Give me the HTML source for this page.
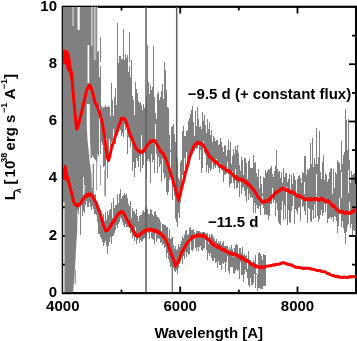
<!DOCTYPE html>
<html><head><meta charset="utf-8"><style>
html,body{margin:0;padding:0;background:#fff;}
svg{display:block;will-change:transform;}
text{font-family:"Liberation Sans",sans-serif;font-weight:bold;}
</style></head><body>
<svg width="357" height="341" viewBox="0 0 357 341">
<defs><clipPath id="c"><rect x="62.9" y="6.7" width="293.2" height="285.6"/></clipPath></defs>
<rect width="357" height="341" fill="#fff"/>
<rect x="62.8" y="6.8" width="293.3" height="286.3" fill="none" stroke="#000" stroke-width="2.2"/>
<g stroke="#000" stroke-width="1.6"></g>
<g clip-path="url(#c)">

<path d="M62,7 L97.5,7 L97.5,150 L97,172 L95,182 L92,200 L90,203 L84,200 L80,204 L77.5,207 L77.2,230 L76,250 L75,268 L74,282 L73,293 L62,293 Z" fill="#808080"/>
<rect x="63.3" y="202" width="1.2" height="91" fill="#f2f2f2"/>
<rect x="72.3" y="7" width="1.4" height="19" fill="#c8c8c8"/>
<rect x="77.6" y="7" width="2.1" height="23" fill="#fff"/>
<rect x="91" y="6" width="1.7" height="40" fill="#c4c4c4"/><rect x="93.7" y="6" width="2.1" height="54" fill="#bcbcbc"/><rect x="96.9" y="6" width="0.6" height="54" fill="#fff"/>
<rect x="87.6" y="45" width="1.6" height="38" fill="#fff"/>
<path d="M86.8,104 L89.7,104 L90,140 L90.5,150 L93,157 L97,162 L101,166 L106,172 L106.5,196 L92,196 L91.5,175 L89.5,160 L88.6,150 L87.5,140 L86.8,125 Z" fill="#fff"/>
<path d="M90.5,150h1.5V158h-1.5zM93.4,150h1.5V157h-1.5zM92.7,164h1.3V190h-1.3zM96.3,160h0.8V190h-0.8zM100,165h0.8V185h-0.8zM104.4,170h1.5V196h-1.5z" fill="#808080"/>
<rect x="83" y="177" width="0.8" height="20" fill="#fff"/><rect x="84.5" y="185" width="0.7" height="12" fill="#fff"/>

<path d="M97,51.8h1V154.3h-1zM98,50.5h1V155.5h-1zM99,76.7h1V107.1h-1zM100,65.9h1V154.2h-1zM101,106.3h1V142.1h-1zM102,107.9h1V144.9h-1zM103,107.0h1V167.0h-1zM104,106.8h1V166.4h-1zM105,105.0h1V171.3h-1zM106,107.3h1V137.7h-1zM107,107.1h1V178.1h-1zM108,105.6h1V161.0h-1zM109,106.9h1V138.5h-1zM110,116.0h1V155.4h-1zM111,102.6h1V142.4h-1zM112,100.4h1V140.3h-1zM113,116.0h1V128.7h-1zM114,100.2h1V138.4h-1zM115,88.1h1V143.9h-1zM116,104.8h1V133.9h-1zM117,64.2h1V134.4h-1zM118,63.1h1V125.9h-1zM119,56.1h1V127.0h-1zM120,56.1h1V129.5h-1zM121,59.1h1V136.2h-1zM122,58.8h1V133.4h-1zM123,50.6h1V137.0h-1zM124,59.5h1V123.5h-1zM125,53.7h1V129.5h-1zM126,58.0h1V118.7h-1zM127,55.3h1V154.1h-1zM128,71.8h1V136.9h-1zM129,65.9h1V138.8h-1zM130,77.2h1V146.6h-1zM131,75.7h1V138.9h-1zM132,96.2h1V170.5h-1zM133,99.9h1V161.6h-1zM134,115.3h1V176.5h-1zM135,86.0h1V168.0h-1zM136,89.1h1V157.5h-1zM137,93.3h1V160.5h-1zM138,101.0h1V167.4h-1zM139,103.3h1V156.1h-1zM140,101.5h1V171.9h-1zM141,105.1h1V134.8h-1zM142,109.9h1V168.2h-1zM143,103.7h1V165.0h-1zM144,108.3h1V153.4h-1zM145,105.3h1V155.3h-1zM146,95.6h1V178.8h-1zM147,93.2h1V161.2h-1zM148,82.3h1V158.8h-1zM149,93.9h1V162.4h-1zM150,85.4h1V183.4h-1zM151,89.7h1V153.5h-1zM152,86.8h1V162.0h-1zM153,96.2h1V160.4h-1zM154,96.9h1V172.7h-1zM155,112.7h1V124.2h-1zM156,119.1h1V153.5h-1zM157,93.5h1V173.0h-1zM158,92.0h1V157.0h-1zM159,100.0h1V167.2h-1zM160,97.1h1V163.9h-1zM161,91.0h1V182.1h-1zM162,84.1h1V159.3h-1zM163,98.6h1V173.1h-1zM164,94.4h1V179.4h-1zM165,81.4h1V176.7h-1zM166,90.4h1V191.5h-1zM167,106.9h1V195.1h-1zM168,108.1h1V191.5h-1zM169,135.4h1V179.5h-1zM170,150.3h1V152.0h-1zM171,127.4h1V174.7h-1zM172,126.2h1V200.0h-1zM173,123.9h1V179.3h-1zM174,134.4h1V196.1h-1zM175,141.9h1V218.9h-1zM176,153.9h1V222.4h-1zM177,158.3h1V227.0h-1zM178,177.7h1V212.7h-1zM179,179.8h1V217.6h-1zM180,161.7h1V203.4h-1zM181,159.5h1V195.7h-1zM182,130.9h1V175.0h-1zM183,126.0h1V185.0h-1zM184,135.7h1V157.5h-1zM185,135.7h1V171.1h-1zM186,130.6h1V152.1h-1zM187,130.3h1V166.3h-1zM188,121.4h1V162.7h-1zM189,118.3h1V158.1h-1zM190,114.4h1V158.4h-1zM191,109.5h1V154.7h-1zM192,108.4h1V154.4h-1zM193,122.4h1V145.6h-1zM194,136.0h1V150.8h-1zM195,111.1h1V147.7h-1zM196,125.8h1V149.2h-1zM197,106.8h1V147.6h-1zM198,118.5h1V144.8h-1zM199,127.4h1V159.6h-1zM200,126.4h1V149.8h-1zM201,129.3h1V173.3h-1zM202,121.7h1V167.9h-1zM203,121.3h1V141.0h-1zM204,115.0h1V153.3h-1zM205,125.4h1V154.6h-1zM206,132.9h1V171.9h-1zM207,119.4h1V165.4h-1zM208,129.0h1V172.8h-1zM209,121.5h1V167.9h-1zM210,134.6h1V170.6h-1zM211,129.5h1V169.3h-1zM212,142.0h1V157.4h-1zM213,136.2h1V168.8h-1zM214,138.0h1V166.2h-1zM215,141.0h1V167.7h-1zM216,139.8h1V158.5h-1zM217,140.1h1V164.3h-1zM218,145.3h1V168.0h-1zM219,144.1h1V173.1h-1zM220,138.1h1V162.5h-1zM221,141.9h1V170.0h-1zM222,146.5h1V171.4h-1zM223,151.8h1V181.8h-1zM224,145.2h1V174.5h-1zM225,146.2h1V174.2h-1zM226,155.8h1V174.3h-1zM227,149.8h1V162.0h-1zM228,139.6h1V173.8h-1zM229,149.6h1V187.2h-1zM230,141.5h1V184.0h-1zM231,164.1h1V183.1h-1zM232,155.8h1V171.4h-1zM233,149.2h1V182.5h-1zM234,154.1h1V189.0h-1zM235,145.5h1V168.5h-1zM236,149.7h1V188.3h-1zM237,152.7h1V188.3h-1zM238,152.7h1V183.4h-1zM239,165.0h1V196.8h-1zM240,171.0h1V182.4h-1zM241,156.9h1V194.0h-1zM242,160.2h1V188.2h-1zM243,175.1h1V186.7h-1zM244,157.5h1V190.6h-1zM245,157.5h1V195.8h-1zM246,163.4h1V201.5h-1zM247,179.1h1V189.3h-1zM248,161.4h1V200.4h-1zM249,158.6h1V194.0h-1zM250,168.2h1V198.4h-1zM251,167.5h1V197.2h-1zM252,167.7h1V198.0h-1zM253,160.0h1V212.9h-1zM254,163.2h1V202.7h-1zM255,162.1h1V213.1h-1zM256,173.2h1V205.0h-1zM257,176.9h1V208.4h-1zM258,168.9h1V208.9h-1zM259,188.4h1V206.1h-1zM260,176.4h1V215.3h-1zM261,183.9h1V204.5h-1zM262,192.7h1V196.4h-1zM263,176.5h1V207.6h-1zM264,177.5h1V214.7h-1zM265,170.2h1V213.8h-1zM266,173.2h1V215.0h-1zM267,171.0h1V214.8h-1zM268,168.9h1V219.7h-1zM269,170.2h1V215.8h-1zM270,168.4h1V204.2h-1zM271,165.9h1V203.7h-1zM272,174.0h1V187.9h-1zM273,176.8h1V202.5h-1zM274,171.4h1V199.5h-1zM275,166.0h1V216.1h-1zM276,167.8h1V203.2h-1zM277,168.9h1V210.4h-1zM278,172.0h1V221.8h-1zM279,170.8h1V224.3h-1zM280,177.7h1V225.0h-1zM281,172.3h1V209.9h-1zM282,183.0h1V201.1h-1zM283,168.3h1V220.0h-1zM284,176.8h1V204.5h-1zM285,172.5h1V218.9h-1zM286,172.8h1V187.3h-1zM287,181.8h1V224.6h-1zM288,178.7h1V210.1h-1zM289,173.7h1V222.1h-1zM290,189.6h1V223.0h-1zM291,174.8h1V211.1h-1zM292,183.8h1V206.0h-1zM293,173.0h1V196.3h-1zM294,176.2h1V223.5h-1zM295,180.0h1V208.7h-1zM296,193.8h1V210.6h-1zM297,179.0h1V214.0h-1zM298,175.9h1V207.6h-1zM299,174.5h1V207.0h-1zM300,178.2h1V220.7h-1zM301,182.7h1V194.9h-1zM302,172.2h1V206.8h-1zM303,173.3h1V206.1h-1zM304,194.3h1V210.8h-1zM305,173.4h1V215.3h-1zM306,174.8h1V200.1h-1zM307,168.6h1V222.6h-1zM308,169.6h1V207.5h-1zM309,168.1h1V208.7h-1zM310,164.3h1V220.5h-1zM311,163.9h1V222.0h-1zM312,168.4h1V209.6h-1zM313,167.1h1V218.6h-1zM314,157.5h1V203.6h-1zM315,164.2h1V218.4h-1zM316,193.6h1V194.6h-1zM317,164.3h1V215.6h-1zM318,157.0h1V222.2h-1zM319,171.6h1V219.0h-1zM320,171.6h1V215.1h-1zM321,179.4h1V210.0h-1zM322,162.4h1V215.9h-1zM323,167.8h1V213.1h-1zM324,179.7h1V203.5h-1zM325,173.3h1V212.1h-1zM326,174.5h1V199.6h-1zM327,182.1h1V223.0h-1zM328,178.5h1V218.8h-1zM329,171.8h1V217.5h-1zM330,169.2h1V217.1h-1zM331,167.6h1V219.2h-1zM332,193.9h1V216.9h-1zM333,168.9h1V221.8h-1zM334,187.5h1V216.2h-1zM335,172.3h1V217.3h-1zM336,173.7h1V221.4h-1zM337,174.8h1V232.6h-1zM338,162.0h1V225.5h-1zM339,162.9h1V197.9h-1zM340,170.3h1V213.8h-1zM341,197.5h1V226.9h-1zM342,164.2h1V221.0h-1zM343,154.9h1V228.2h-1zM344,151.5h1V232.8h-1zM345,151.5h1V243.7h-1zM346,162.2h1V231.5h-1zM347,150.1h1V226.2h-1zM348,193.2h1V223.8h-1zM349,159.5h1V201.9h-1zM350,182.6h1V227.9h-1zM351,170.8h1V224.0h-1zM352,175.2h1V234.5h-1zM353,173.8h1V230.2h-1zM354,173.1h1V230.8h-1zM355,183.5h1V236.2h-1z" fill="#808080" shape-rendering="crispEdges"/>
<path d="M77,196.2h1V209.9h-1zM78,196.4h1V213.7h-1zM79,193.8h1V205.1h-1zM80,201.6h1V202.6h-1zM81,194.2h1V205.2h-1zM82,200.3h1V215.8h-1zM83,195.0h1V210.5h-1zM84,192.9h1V212.8h-1zM85,189.1h1V204.7h-1zM86,188.6h1V200.5h-1zM87,185.2h1V206.7h-1zM88,191.7h1V207.3h-1zM89,187.9h1V196.5h-1zM90,188.3h1V207.1h-1zM91,194.8h1V209.8h-1zM92,188.1h1V206.3h-1zM93,191.0h1V208.9h-1zM94,195.3h1V213.9h-1zM95,194.0h1V214.4h-1zM96,201.1h1V214.9h-1zM97,201.8h1V222.1h-1zM98,206.1h1V234.4h-1zM99,211.3h1V234.1h-1zM100,212.4h1V237.1h-1zM101,214.8h1V239.4h-1zM102,219.9h1V241.9h-1zM103,213.8h1V246.4h-1zM104,220.9h1V243.1h-1zM105,212.3h1V241.2h-1zM106,220.3h1V245.7h-1zM107,210.5h1V254.2h-1zM108,214.6h1V246.3h-1zM109,209.7h1V241.6h-1zM110,208.9h1V237.1h-1zM111,202.6h1V243.7h-1zM112,217.5h1V235.5h-1zM113,198.2h1V235.9h-1zM114,208.3h1V232.5h-1zM115,205.2h1V229.5h-1zM116,204.5h1V225.4h-1zM117,193.5h1V227.7h-1zM118,202.5h1V224.4h-1zM119,193.7h1V221.7h-1zM120,189.0h1V218.3h-1zM121,198.8h1V219.4h-1zM122,195.6h1V221.9h-1zM123,195.2h1V225.1h-1zM124,193.0h1V226.7h-1zM125,195.3h1V224.0h-1zM126,193.6h1V227.2h-1zM127,197.8h1V226.5h-1zM128,203.6h1V226.5h-1zM129,205.6h1V227.6h-1zM130,200.7h1V233.4h-1zM131,217.9h1V232.4h-1zM132,207.5h1V237.5h-1zM133,211.4h1V236.0h-1zM134,211.8h1V240.6h-1zM135,214.3h1V226.5h-1zM136,209.2h1V243.9h-1zM137,215.6h1V240.2h-1zM138,221.2h1V236.8h-1zM139,215.7h1V243.0h-1zM140,215.0h1V239.5h-1zM141,214.9h1V242.1h-1zM142,211.7h1V241.2h-1zM143,210.4h1V238.7h-1zM144,211.6h1V238.3h-1zM145,206.6h1V237.2h-1zM146,205.7h1V238.5h-1zM147,209.2h1V231.5h-1zM148,213.7h1V233.0h-1zM149,213.6h1V239.4h-1zM150,208.8h1V230.8h-1zM151,210.0h1V237.9h-1zM152,213.6h1V239.1h-1zM153,215.7h1V240.0h-1zM154,211.9h1V244.1h-1zM155,210.7h1V232.9h-1zM156,214.7h1V241.9h-1zM157,216.7h1V238.9h-1zM158,216.7h1V238.0h-1zM159,219.1h1V239.0h-1zM160,222.3h1V242.8h-1zM161,230.7h1V242.2h-1zM162,224.4h1V245.0h-1zM163,223.5h1V244.1h-1zM164,224.8h1V248.1h-1zM165,225.1h1V246.6h-1zM166,227.4h1V258.3h-1zM167,227.4h1V253.4h-1zM168,238.0h1V259.4h-1zM169,228.9h1V261.9h-1zM170,239.3h1V266.6h-1zM171,238.2h1V266.0h-1zM172,236.8h1V266.3h-1zM173,245.1h1V267.9h-1zM174,248.9h1V270.8h-1zM175,246.0h1V272.0h-1zM176,250.1h1V269.5h-1zM177,248.9h1V273.9h-1zM178,243.7h1V268.1h-1zM179,247.4h1V263.5h-1zM180,243.8h1V261.5h-1zM181,240.6h1V256.8h-1zM182,236.2h1V264.1h-1zM183,238.2h1V255.9h-1zM184,235.1h1V258.9h-1zM185,230.5h1V251.8h-1zM186,230.3h1V256.6h-1zM187,235.0h1V252.2h-1zM188,233.6h1V255.0h-1zM189,227.6h1V253.5h-1zM190,227.4h1V239.2h-1zM191,229.6h1V249.7h-1zM192,230.3h1V251.0h-1zM193,229.0h1V249.4h-1zM194,232.1h1V236.5h-1zM195,238.7h1V248.4h-1zM196,231.2h1V251.0h-1zM197,231.4h1V247.4h-1zM198,231.0h1V250.7h-1zM199,230.9h1V247.1h-1zM200,232.4h1V245.6h-1zM201,232.8h1V249.8h-1zM202,232.2h1V250.8h-1zM203,231.5h1V249.1h-1zM204,231.6h1V247.9h-1zM205,232.7h1V240.2h-1zM206,234.4h1V250.0h-1zM207,233.1h1V259.6h-1zM208,244.1h1V252.8h-1zM209,234.1h1V255.5h-1zM210,236.9h1V253.4h-1zM211,233.8h1V258.1h-1zM212,235.1h1V261.2h-1zM213,236.5h1V260.9h-1zM214,238.7h1V257.9h-1zM215,241.0h1V262.8h-1zM216,239.4h1V262.4h-1zM217,242.7h1V267.9h-1zM218,240.9h1V260.6h-1zM219,243.2h1V265.0h-1zM220,241.3h1V264.6h-1zM221,245.4h1V270.0h-1zM222,243.4h1V263.0h-1zM223,241.2h1V263.5h-1zM224,245.9h1V261.6h-1zM225,246.1h1V272.1h-1zM226,245.5h1V262.2h-1zM227,245.8h1V255.5h-1zM228,251.2h1V271.2h-1zM229,246.6h1V273.7h-1zM230,248.8h1V266.9h-1zM231,244.7h1V266.5h-1zM232,249.4h1V267.1h-1zM233,256.9h1V273.1h-1zM234,247.6h1V273.9h-1zM235,244.6h1V270.9h-1zM236,244.3h1V268.9h-1zM237,245.2h1V270.5h-1zM238,254.6h1V269.8h-1zM239,247.7h1V278.5h-1zM240,247.9h1V261.7h-1zM241,253.3h1V275.3h-1zM242,247.1h1V274.8h-1zM243,255.2h1V281.7h-1zM244,254.1h1V273.8h-1zM245,256.3h1V270.4h-1zM246,255.4h1V271.7h-1zM247,269.1h1V277.7h-1zM248,250.7h1V284.5h-1zM249,259.7h1V287.0h-1zM250,260.3h1V277.6h-1zM251,262.7h1V285.1h-1zM252,264.6h1V284.7h-1zM253,260.1h1V283.2h-1zM254,262.0h1V274.0h-1zM255,255.3h1V288.2h-1zM256,273.2h1V274.2h-1zM257,273.5h1V290.9h-1zM258,253.2h1V288.1h-1zM259,251.8h1V288.3h-1zM260,253.6h1V288.5h-1zM261,256.1h1V289.2h-1zM262,260.4h1V289.1h-1zM263,253.7h1V285.9h-1zM264,255.3h1V286.0h-1zM265,255.3h1V285.6h-1z" fill="#808080" shape-rendering="crispEdges"/>

<path d="M100,37.0h1V62.0h-1zM111,82.6h1V107.9h-1zM114,96.6h1V102.2h-1zM117,23.0h1V67.3h-1zM123,29.0h1V62.0h-1zM129,31.7h1V62.0h-1zM131,60.0h1V90.8h-1zM135,82.0h1V102.0h-1zM147,45.0h1V97.0h-1zM153,46.0h1V97.0h-1zM164,62.0h1V102.0h-1zM165,70.0h1V102.0h-1zM304,156.0h1V182.1h-1zM310,143.0h1V179.5h-1zM312,138.0h1V178.0h-1zM316,128.0h1V174.0h-1zM319,131.0h1V174.0h-1zM323,154.5h1V180.0h-1zM337,160.0h1V177.3h-1zM341,141.0h1V171.8h-1zM345,109.0h1V167.0h-1zM346,120.0h1V168.5h-1zM348,119.0h1V170.0h-1zM276,150.0h1V170.0h-1zM237,145.0h1V163.9h-1zM253,155.0h1V174.2h-1zM305,156.0h1V182.0h-1zM192,106.0h1V127.0h-1zM197,108.0h1V128.2h-1zM202,112.0h1V130.8h-1z" fill="#808080" shape-rendering="crispEdges"/>
<line x1="146" y1="7" x2="146" y2="293" stroke="#606060" stroke-width="1.5"/>
<line x1="176.7" y1="7" x2="176.7" y2="190" stroke="#606060" stroke-width="1.5"/>
<line x1="172.3" y1="255" x2="172.3" y2="293" stroke="#707070" stroke-width="1.3"/>
<line x1="80.5" y1="200" x2="80.5" y2="235" stroke="#808080" stroke-width="1"/>
<line x1="75.3" y1="270" x2="75.3" y2="284" stroke="#808080" stroke-width="1"/>

<path d="M62.8,50.5 L64.5,49.3 L65.5,51 L66.8,49.5 L68.2,51.5 L69.8,55 L70.8,61 L71.5,67 L72.8,74 L73.8,82 L71.5,83 L70.3,77 L68.8,72 L66.8,69.5 L65.8,65 L64,63.8 L62.8,63.5 Z" fill="#f00"/>
<path d="M62.8,170 L64,165.5 L65.5,164.5 L66.5,166 L67.5,171 L69,178 L70.5,184 L68.5,186 L66.5,181 L64.5,180 L62.8,179 Z" fill="#f00"/>
<path d="M71.5,70.5 L72.5,84.0 L73.5,94.3 L74.5,106.8 L75.5,115.6 L76.5,126.3 L77.5,126.8 L78.5,122.7 L79.5,117.9 L80.5,114.1 L81.5,111.2 L82.5,106.7 L83.5,102.0 L84.5,98.7 L85.5,92.5 L86.5,88.7 L87.5,86.4 L88.5,85.0 L89.5,83.5 L90.5,84.5 L91.5,87.5 L92.5,90.2 L93.5,93.3 L94.5,98.5 L95.5,102.0 L96.5,103.0 L97.5,105.3 L98.5,107.7 L99.5,109.9 L100.5,114.4 L101.5,117.3 L102.5,121.5 L103.5,129.2 L104.5,134.8 L105.5,141.5 L106.5,150.4 L107.5,156.3 L108.5,158.9 L109.5,156.0 L110.5,150.2 L111.5,146.2 L112.5,143.4 L113.5,140.2 L114.5,137.1 L115.5,133.4 L116.5,132.5 L117.5,128.2 L118.5,125.3 L119.5,122.0 L120.5,119.3 L121.5,116.6 L122.5,117.2 L123.5,117.2 L124.5,116.6 L125.5,118.3 L126.5,121.3 L127.5,124.0 L128.5,127.6 L129.5,131.0 L130.5,133.5 L131.5,135.3 L132.5,138.1 L133.5,140.2 L134.5,143.1 L135.5,145.8 L136.5,146.6 L137.5,148.0 L138.5,149.2 L139.5,149.2 L140.5,149.8 L141.5,149.7 L142.5,149.9 L143.5,149.3 L144.5,147.9 L145.5,146.9 L146.5,144.5 L147.5,142.8 L148.5,142.6 L149.5,141.1 L150.5,139.1 L151.5,140.6 L152.5,139.7 L153.5,138.9 L154.5,139.0 L155.5,139.6 L156.5,141.9 L157.5,144.4 L158.5,145.6 L159.5,147.4 L160.5,149.1 L161.5,149.9 L162.5,151.2 L163.5,151.7 L164.5,155.1 L165.5,155.5 L166.5,158.9 L167.5,162.0 L168.5,164.4 L169.5,167.6 L170.5,171.0 L171.5,174.6 L172.5,176.9 L173.5,181.0 L174.5,183.9 L175.5,187.2 L176.5,190.2 L177.5,193.5 L178.5,197.6 L179.5,194.3 L180.5,191.7 L181.5,187.0 L182.5,182.3 L183.5,178.8 L184.5,175.9 L185.5,170.6 L186.5,168.0 L187.5,163.3 L188.5,160.4 L189.5,156.1 L190.5,152.8 L191.5,149.8 L192.5,147.0 L193.5,145.7 L194.5,143.0 L195.5,142.8 L196.5,141.0 L197.5,140.6 L198.5,141.7 L199.5,141.0 L200.5,142.0 L201.5,141.4 L202.5,142.6 L203.5,143.9 L204.5,145.4 L205.5,147.8 L206.5,148.6 L207.5,149.5 L208.5,152.2 L209.5,155.0 L210.5,155.1 L211.5,155.8 L212.5,156.9 L213.5,158.9 L214.5,159.5 L215.5,160.3 L216.5,160.2 L217.5,160.7 L218.5,163.0 L219.5,164.1 L220.5,164.2 L221.5,164.0 L222.5,165.9 L223.5,165.5 L224.5,166.1 L225.5,167.3 L226.5,168.9 L227.5,169.2 L228.5,169.1 L229.5,169.6 L230.5,169.5 L231.5,172.0 L232.5,172.2 L233.5,174.1 L234.5,174.4 L235.5,175.6 L236.5,175.1 L237.5,176.0 L238.5,177.9 L239.5,176.4 L240.5,178.5 L241.5,177.3 L242.5,177.8 L243.5,178.2 L244.5,179.7 L245.5,179.8 L246.5,179.9 L247.5,182.2 L248.5,181.2 L249.5,183.2 L250.5,184.6 L251.5,185.1 L252.5,185.8 L253.5,187.9 L254.5,188.6 L255.5,189.9 L256.5,192.2 L257.5,193.7 L258.5,195.2 L259.5,196.5 L260.5,198.3 L261.5,198.9 L262.5,199.9 L263.5,200.9 L264.5,200.4 L265.5,198.8 L266.5,199.6 L267.5,199.8 L268.5,197.4 L269.5,198.6 L270.5,196.0 L271.5,194.6 L272.5,195.2 L273.5,192.9 L274.5,192.7 L275.5,190.3 L276.5,190.0 L277.5,190.4 L278.5,189.5 L279.5,188.4 L280.5,187.4 L281.5,187.9 L282.5,186.6 L283.5,187.2 L284.5,186.8 L285.5,188.6 L286.5,187.9 L287.5,188.9 L288.5,187.9 L289.5,189.5 L290.5,189.9 L291.5,191.0 L292.5,190.2 L293.5,190.8 L294.5,191.0 L295.5,192.7 L296.5,194.0 L297.5,193.9 L298.5,194.1 L299.5,194.7 L300.5,193.7 L301.5,195.9 L302.5,196.2 L303.5,196.1 L304.5,197.8 L305.5,198.1 L306.5,197.2 L307.5,197.7 L308.5,197.5 L309.5,197.0 L310.5,198.8 L311.5,196.9 L312.5,197.9 L313.5,197.6 L314.5,197.3 L315.5,197.1 L316.5,196.4 L317.5,198.7 L318.5,197.7 L319.5,198.5 L320.5,198.7 L321.5,196.1 L322.5,197.0 L323.5,198.1 L324.5,198.1 L325.5,200.0 L326.5,199.9 L327.5,199.4 L328.5,199.2 L329.5,199.5 L330.5,200.9 L331.5,203.0 L332.5,204.1 L333.5,205.0 L334.5,204.0 L335.5,205.9 L336.5,206.9 L337.5,207.8 L338.5,208.6 L339.5,210.0 L340.5,209.9 L341.5,209.5 L342.5,210.6 L343.5,210.3 L344.5,211.6 L345.5,210.5 L346.5,210.6 L347.5,211.2 L348.5,210.4 L349.5,211.9 L350.5,210.9 L351.5,210.3 L352.5,209.3 L353.5,209.5 L354.5,208.5 L355.5,209.2 L356.5,209.4 L356.5,212.4 L355.5,212.0 L354.5,212.9 L353.5,213.2 L352.5,213.1 L351.5,214.9 L350.5,214.7 L349.5,215.0 L348.5,214.3 L347.5,213.7 L346.5,214.5 L345.5,214.6 L344.5,214.6 L343.5,213.9 L342.5,214.3 L341.5,213.4 L340.5,213.2 L339.5,213.9 L338.5,213.0 L337.5,211.5 L336.5,211.3 L335.5,210.2 L334.5,208.2 L333.5,207.8 L332.5,208.1 L331.5,207.0 L330.5,205.8 L329.5,203.6 L328.5,203.3 L327.5,203.1 L326.5,203.8 L325.5,202.6 L324.5,202.4 L323.5,201.9 L322.5,200.6 L321.5,200.3 L320.5,201.2 L319.5,201.8 L318.5,201.2 L317.5,201.9 L316.5,200.5 L315.5,200.6 L314.5,201.0 L313.5,201.0 L312.5,200.7 L311.5,201.0 L310.5,201.6 L309.5,201.0 L308.5,200.2 L307.5,202.0 L306.5,200.9 L305.5,201.3 L304.5,201.3 L303.5,200.8 L302.5,199.0 L301.5,199.5 L300.5,197.8 L299.5,198.0 L298.5,198.1 L297.5,197.4 L296.5,197.9 L295.5,195.9 L294.5,194.8 L293.5,194.4 L292.5,194.0 L291.5,194.1 L290.5,193.9 L289.5,194.1 L288.5,192.4 L287.5,191.9 L286.5,191.3 L285.5,192.2 L284.5,189.9 L283.5,191.1 L282.5,189.8 L281.5,190.5 L280.5,192.1 L279.5,191.9 L278.5,192.9 L277.5,193.9 L276.5,194.0 L275.5,195.1 L274.5,196.5 L273.5,197.6 L272.5,198.3 L271.5,199.4 L270.5,199.9 L269.5,202.2 L268.5,201.7 L267.5,202.6 L266.5,202.7 L265.5,202.3 L264.5,203.4 L263.5,203.7 L262.5,204.3 L261.5,202.7 L260.5,202.0 L259.5,201.1 L258.5,198.8 L257.5,197.9 L256.5,195.9 L255.5,194.4 L254.5,192.5 L253.5,191.9 L252.5,190.1 L251.5,189.6 L250.5,188.9 L249.5,186.9 L248.5,186.0 L247.5,186.6 L246.5,184.5 L245.5,183.2 L244.5,183.8 L243.5,181.8 L242.5,181.5 L241.5,181.4 L240.5,180.8 L239.5,181.1 L238.5,181.2 L237.5,180.3 L236.5,179.7 L235.5,180.4 L234.5,178.8 L233.5,177.4 L232.5,175.9 L231.5,175.2 L230.5,173.2 L229.5,173.6 L228.5,173.5 L227.5,171.8 L226.5,172.7 L225.5,170.4 L224.5,170.3 L223.5,169.2 L222.5,168.8 L221.5,168.2 L220.5,167.6 L219.5,167.7 L218.5,166.0 L217.5,165.9 L216.5,164.1 L215.5,164.5 L214.5,163.1 L213.5,163.1 L212.5,160.6 L211.5,160.2 L210.5,158.8 L209.5,159.2 L208.5,156.1 L207.5,154.6 L206.5,153.6 L205.5,151.5 L204.5,148.9 L203.5,147.1 L202.5,146.5 L201.5,145.6 L200.5,145.0 L199.5,144.1 L198.5,145.1 L197.5,144.5 L196.5,145.9 L195.5,147.4 L194.5,146.8 L193.5,149.9 L192.5,151.0 L191.5,153.9 L190.5,156.4 L189.5,159.1 L188.5,163.6 L187.5,167.8 L186.5,171.1 L185.5,175.0 L184.5,179.7 L183.5,183.1 L182.5,186.9 L181.5,191.0 L180.5,194.6 L179.5,198.1 L178.5,202.2 L177.5,197.6 L176.5,194.3 L175.5,191.0 L174.5,188.1 L173.5,184.3 L172.5,181.5 L171.5,177.9 L170.5,174.8 L169.5,171.6 L168.5,167.8 L167.5,166.2 L166.5,162.7 L165.5,160.7 L164.5,158.4 L163.5,155.4 L162.5,155.3 L161.5,153.6 L160.5,153.4 L159.5,152.3 L158.5,148.9 L157.5,147.9 L156.5,145.0 L155.5,143.3 L154.5,142.7 L153.5,142.3 L152.5,141.7 L151.5,143.5 L150.5,143.1 L149.5,144.8 L148.5,146.0 L147.5,147.2 L146.5,147.8 L145.5,150.3 L144.5,152.1 L143.5,152.1 L142.5,153.8 L141.5,154.0 L140.5,153.6 L139.5,153.0 L138.5,152.4 L137.5,151.4 L136.5,150.8 L135.5,149.6 L134.5,146.8 L133.5,145.0 L132.5,142.1 L131.5,139.5 L130.5,137.5 L129.5,135.5 L128.5,132.3 L127.5,128.1 L126.5,125.5 L125.5,122.0 L124.5,121.3 L123.5,120.1 L122.5,120.4 L121.5,120.0 L120.5,123.5 L119.5,125.9 L118.5,129.4 L117.5,131.8 L116.5,136.1 L115.5,137.7 L114.5,140.8 L113.5,144.2 L112.5,147.2 L111.5,149.5 L110.5,154.6 L109.5,159.5 L108.5,161.9 L107.5,159.0 L106.5,154.3 L105.5,146.0 L104.5,138.2 L103.5,132.0 L102.5,125.6 L101.5,121.3 L100.5,119.2 L99.5,114.2 L98.5,113.0 L97.5,109.4 L96.5,107.3 L95.5,105.1 L94.5,103.2 L93.5,97.5 L92.5,94.5 L91.5,90.3 L90.5,87.2 L89.5,87.2 L88.5,88.5 L87.5,90.0 L86.5,93.2 L85.5,96.5 L84.5,101.9 L83.5,105.7 L82.5,110.9 L81.5,114.4 L80.5,118.1 L79.5,121.7 L78.5,125.8 L77.5,130.6 L76.5,130.5 L75.5,120.0 L74.5,109.7 L73.5,99.0 L72.5,88.2 L71.5,74.6Z" fill="#f00"/>
<path d="M67.5,175.9 L68.5,178.0 L69.5,183.3 L70.5,186.8 L71.5,190.5 L72.5,194.2 L73.5,199.1 L74.5,201.7 L75.5,202.9 L76.5,202.9 L77.5,203.6 L78.5,202.8 L79.5,202.7 L80.5,201.7 L81.5,200.8 L82.5,197.8 L83.5,196.1 L84.5,195.2 L85.5,194.2 L86.5,193.1 L87.5,193.3 L88.5,192.2 L89.5,192.7 L90.5,192.4 L91.5,192.7 L92.5,194.8 L93.5,197.0 L94.5,198.0 L95.5,199.9 L96.5,201.7 L97.5,204.2 L98.5,206.9 L99.5,209.2 L100.5,212.4 L101.5,216.0 L102.5,220.0 L103.5,222.8 L104.5,226.1 L105.5,229.4 L106.5,228.6 L107.5,228.2 L108.5,227.4 L109.5,224.7 L110.5,223.6 L111.5,222.8 L112.5,220.0 L113.5,219.6 L114.5,218.6 L115.5,215.8 L116.5,215.1 L117.5,212.5 L118.5,211.8 L119.5,211.3 L120.5,210.0 L121.5,210.7 L122.5,210.0 L123.5,211.6 L124.5,213.5 L125.5,214.8 L126.5,217.6 L127.5,218.2 L128.5,220.2 L129.5,221.6 L130.5,224.1 L131.5,224.2 L132.5,227.2 L133.5,229.8 L134.5,230.5 L135.5,232.7 L136.5,233.4 L137.5,234.6 L138.5,233.4 L139.5,232.7 L140.5,233.0 L141.5,230.7 L142.5,231.2 L143.5,229.3 L144.5,229.0 L145.5,228.8 L146.5,228.6 L147.5,228.8 L148.5,228.0 L149.5,227.8 L150.5,227.9 L151.5,227.7 L152.5,228.1 L153.5,228.4 L154.5,229.1 L155.5,228.3 L156.5,229.6 L157.5,230.5 L158.5,230.1 L159.5,232.0 L160.5,231.4 L161.5,232.9 L162.5,233.8 L163.5,234.3 L164.5,235.5 L165.5,237.6 L166.5,240.1 L167.5,241.0 L168.5,244.5 L169.5,247.1 L170.5,249.3 L171.5,252.5 L172.5,255.3 L173.5,257.7 L174.5,260.9 L175.5,264.6 L176.5,261.7 L177.5,261.2 L178.5,259.1 L179.5,256.1 L180.5,254.3 L181.5,250.1 L182.5,249.3 L183.5,246.1 L184.5,246.1 L185.5,242.8 L186.5,242.3 L187.5,240.9 L188.5,239.9 L189.5,238.9 L190.5,237.0 L191.5,235.6 L192.5,235.0 L193.5,235.8 L194.5,235.7 L195.5,233.7 L196.5,234.1 L197.5,234.3 L198.5,233.0 L199.5,234.0 L200.5,234.7 L201.5,234.0 L202.5,233.7 L203.5,233.0 L204.5,234.4 L205.5,235.0 L206.5,235.9 L207.5,236.6 L208.5,238.1 L209.5,237.7 L210.5,240.4 L211.5,239.4 L212.5,242.6 L213.5,241.9 L214.5,242.9 L215.5,244.3 L216.5,244.0 L217.5,244.5 L218.5,245.7 L219.5,244.8 L220.5,245.9 L221.5,247.8 L222.5,247.6 L223.5,248.2 L224.5,247.9 L225.5,248.7 L226.5,249.8 L227.5,250.2 L228.5,250.3 L229.5,251.5 L230.5,251.3 L231.5,251.9 L232.5,252.3 L233.5,252.2 L234.5,252.4 L235.5,252.3 L236.5,253.4 L237.5,252.9 L238.5,254.0 L239.5,255.7 L240.5,255.1 L241.5,256.1 L242.5,255.8 L243.5,256.8 L244.5,258.6 L245.5,258.1 L246.5,258.8 L247.5,258.8 L248.5,259.1 L249.5,260.6 L250.5,261.8 L251.5,262.1 L252.5,262.6 L253.5,262.8 L254.5,264.2 L255.5,264.5 L256.5,264.6 L257.5,264.9 L258.5,265.1 L259.5,265.8 L260.5,265.6 L261.5,265.5 L262.5,265.5 L263.5,265.4 L264.5,265.4 L264.5,268.5 L263.5,269.3 L262.5,268.3 L261.5,268.4 L260.5,269.7 L259.5,269.1 L258.5,268.1 L257.5,268.6 L256.5,268.4 L255.5,267.9 L254.5,267.9 L253.5,266.7 L252.5,265.5 L251.5,265.8 L250.5,265.5 L249.5,265.0 L248.5,263.3 L247.5,262.8 L246.5,262.2 L245.5,262.1 L244.5,261.5 L243.5,260.6 L242.5,260.0 L241.5,259.5 L240.5,259.1 L239.5,259.4 L238.5,258.0 L237.5,256.9 L236.5,256.6 L235.5,256.1 L234.5,256.5 L233.5,255.9 L232.5,255.2 L231.5,255.5 L230.5,254.8 L229.5,255.2 L228.5,254.3 L227.5,253.7 L226.5,252.5 L225.5,252.7 L224.5,252.6 L223.5,251.2 L222.5,251.2 L221.5,251.8 L220.5,249.5 L219.5,248.8 L218.5,248.9 L217.5,249.6 L216.5,247.8 L215.5,247.8 L214.5,247.3 L213.5,246.3 L212.5,246.4 L211.5,244.2 L210.5,244.1 L209.5,243.1 L208.5,241.1 L207.5,240.0 L206.5,240.6 L205.5,238.3 L204.5,238.7 L203.5,236.9 L202.5,238.3 L201.5,236.9 L200.5,237.5 L199.5,237.0 L198.5,237.0 L197.5,237.6 L196.5,237.7 L195.5,238.0 L194.5,238.5 L193.5,238.4 L192.5,238.1 L191.5,239.8 L190.5,241.1 L189.5,242.6 L188.5,243.6 L187.5,244.5 L186.5,246.9 L185.5,247.9 L184.5,249.0 L183.5,250.9 L182.5,252.8 L181.5,254.5 L180.5,257.6 L179.5,261.1 L178.5,263.6 L177.5,265.5 L176.5,265.5 L175.5,268.1 L174.5,264.5 L173.5,260.8 L172.5,259.0 L171.5,256.4 L170.5,254.5 L169.5,250.9 L168.5,247.5 L167.5,245.1 L166.5,243.0 L165.5,241.6 L164.5,240.6 L163.5,237.5 L162.5,237.9 L161.5,237.3 L160.5,234.8 L159.5,235.8 L158.5,233.6 L157.5,234.1 L156.5,232.8 L155.5,232.9 L154.5,233.2 L153.5,232.2 L152.5,232.1 L151.5,231.4 L150.5,231.6 L149.5,230.2 L148.5,230.9 L147.5,231.0 L146.5,231.8 L145.5,232.9 L144.5,233.9 L143.5,233.3 L142.5,234.8 L141.5,234.6 L140.5,236.3 L139.5,236.7 L138.5,237.9 L137.5,237.8 L136.5,238.0 L135.5,236.7 L134.5,233.7 L133.5,233.3 L132.5,230.8 L131.5,228.5 L130.5,228.0 L129.5,225.7 L128.5,223.5 L127.5,223.3 L126.5,220.6 L125.5,217.9 L124.5,217.0 L123.5,215.6 L122.5,214.2 L121.5,214.3 L120.5,214.8 L119.5,214.5 L118.5,216.4 L117.5,216.5 L116.5,218.4 L115.5,219.5 L114.5,222.6 L113.5,224.2 L112.5,225.0 L111.5,226.7 L110.5,228.5 L109.5,228.6 L108.5,231.0 L107.5,232.2 L106.5,231.6 L105.5,233.3 L104.5,229.4 L103.5,227.1 L102.5,224.3 L101.5,220.7 L100.5,217.1 L99.5,212.9 L98.5,210.7 L97.5,208.5 L96.5,205.2 L95.5,203.9 L94.5,202.5 L93.5,200.7 L92.5,197.8 L91.5,196.9 L90.5,197.2 L89.5,196.1 L88.5,196.7 L87.5,198.0 L86.5,198.0 L85.5,198.6 L84.5,200.0 L83.5,201.2 L82.5,201.4 L81.5,203.5 L80.5,205.8 L79.5,206.7 L78.5,207.4 L77.5,207.9 L76.5,206.4 L75.5,206.9 L74.5,205.0 L73.5,203.9 L72.5,198.7 L71.5,194.6 L70.5,191.6 L69.5,186.8 L68.5,182.9 L67.5,179.4Z" fill="#f00"/>
<path d="M265.0,265.1 L266.0,264.9 L267.0,264.7 L268.0,264.5 L269.0,264.7 L270.0,264.3 L271.0,264.2 L272.0,263.9 L273.0,263.3 L274.0,263.6 L275.0,263.4 L276.0,262.6 L277.0,263.0 L278.0,262.7 L279.0,262.8 L280.0,262.3 L281.0,262.0 L282.0,261.5 L283.0,261.3 L284.0,261.6 L285.0,261.7 L286.0,262.0 L287.0,262.7 L288.0,262.5 L289.0,263.4 L290.0,263.1 L291.0,263.4 L292.0,263.6 L293.0,264.1 L294.0,264.9 L295.0,265.6 L296.0,265.7 L297.0,266.0 L298.0,265.6 L299.0,266.1 L300.0,266.0 L301.0,266.5 L302.0,266.7 L303.0,266.5 L304.0,267.1 L305.0,266.7 L306.0,266.7 L307.0,266.7 L308.0,266.6 L309.0,266.9 L310.0,267.7 L311.0,267.3 L312.0,267.8 L313.0,267.9 L314.0,267.8 L315.0,268.4 L316.0,268.9 L317.0,268.5 L318.0,269.5 L319.0,268.9 L320.0,269.5 L321.0,269.3 L322.0,270.3 L323.0,270.4 L324.0,270.2 L325.0,270.1 L326.0,271.3 L327.0,272.0 L328.0,271.7 L329.0,272.1 L330.0,273.4 L331.0,273.6 L332.0,274.0 L333.0,274.1 L334.0,274.3 L335.0,274.8 L336.0,275.2 L337.0,274.5 L338.0,275.1 L339.0,275.8 L340.0,275.4 L341.0,276.0 L342.0,275.9 L343.0,275.8 L344.0,275.6 L345.0,275.7 L346.0,276.0 L347.0,276.1 L348.0,276.0 L349.0,275.4 L350.0,275.1 L351.0,275.3 L352.0,275.4 L353.0,275.6 L354.0,275.2 L355.0,275.4 L356.0,275.6 L356.0,278.1 L355.0,278.3 L354.0,278.0 L353.0,278.0 L352.0,278.3 L351.0,278.3 L350.0,278.4 L349.0,278.4 L348.0,278.8 L347.0,278.6 L346.0,278.9 L345.0,278.3 L344.0,278.6 L343.0,278.6 L342.0,279.0 L341.0,278.8 L340.0,278.1 L339.0,278.4 L338.0,278.4 L337.0,277.8 L336.0,277.7 L335.0,277.7 L334.0,277.5 L333.0,276.8 L332.0,276.8 L331.0,276.1 L330.0,276.2 L329.0,275.5 L328.0,274.8 L327.0,275.1 L326.0,274.1 L325.0,273.1 L324.0,272.9 L323.0,273.0 L322.0,273.2 L321.0,272.6 L320.0,272.6 L319.0,271.7 L318.0,272.2 L317.0,271.7 L316.0,271.5 L315.0,271.1 L314.0,270.6 L313.0,270.6 L312.0,270.7 L311.0,270.2 L310.0,270.2 L309.0,269.6 L308.0,269.5 L307.0,269.6 L306.0,269.6 L305.0,269.3 L304.0,269.9 L303.0,269.8 L302.0,269.6 L301.0,269.6 L300.0,269.1 L299.0,269.0 L298.0,268.5 L297.0,268.9 L296.0,268.6 L295.0,268.5 L294.0,268.1 L293.0,267.2 L292.0,267.0 L291.0,266.2 L290.0,266.3 L289.0,266.2 L288.0,265.8 L287.0,265.4 L286.0,264.9 L285.0,264.9 L284.0,264.2 L283.0,263.9 L282.0,264.6 L281.0,265.3 L280.0,265.4 L279.0,265.4 L278.0,265.5 L277.0,265.8 L276.0,265.6 L275.0,266.3 L274.0,266.7 L273.0,266.3 L272.0,266.4 L271.0,267.4 L270.0,267.3 L269.0,267.2 L268.0,267.3 L267.0,267.3 L266.0,267.7 L265.0,268.2Z" fill="#f00"/>
<g fill="none" stroke="#f00" stroke-linejoin="round" stroke-linecap="round"><path d="M71.5,72.2 L72.5,85.6 L73.5,96.3 L74.5,108.2 L75.5,118.0 L76.5,128.9 L77.5,128.2 L78.5,124.3 L79.5,120.4 L80.5,116.5 L81.5,112.7 L82.5,108.6 L83.5,103.4 L84.5,100.2 L85.5,95.0 L86.5,91.0 L87.5,88.2 L88.5,86.6 L89.5,85.2 L90.5,85.9 L91.5,89.0 L92.5,92.4 L93.5,96.0 L94.5,100.9 L95.5,103.4 L96.5,105.0 L97.5,107.0 L98.5,110.3 L99.5,112.1 L100.5,116.6 L101.5,119.6 L102.5,124.0 L103.5,130.5 L104.5,136.1 L105.5,143.9 L106.5,152.5 L107.5,157.7 L108.5,160.5 L109.5,157.3 L110.5,152.7 L111.5,147.8 L112.5,144.7 L113.5,142.3 L114.5,139.1 L115.5,135.9 L116.5,133.9 L117.5,130.4 L118.5,126.9 L119.5,123.6 L120.5,121.1 L121.5,118.3 L122.5,118.5 L123.5,118.2 L124.5,119.2 L125.5,120.0 L126.5,123.1 L127.5,125.8 L128.5,129.8 L129.5,132.8 L130.5,135.4 L131.5,136.9 L132.5,139.8 L133.5,142.6 L134.5,144.9 L135.5,147.4 L136.5,149.3 L137.5,149.8 L138.5,151.0 L139.5,151.6 L140.5,152.0 L141.5,152.2 L142.5,151.7 L143.5,150.8 L144.5,150.2 L145.5,148.5 L146.5,146.4 L147.5,145.1 L148.5,144.1 L149.5,142.9 L150.5,141.0 L151.5,141.6 L152.5,140.8 L153.5,140.5 L154.5,140.5 L155.5,141.7 L156.5,143.2 L157.5,145.8 L158.5,146.9 L159.5,149.6 L160.5,151.4 L161.5,151.7 L162.5,152.8 L163.5,153.7 L164.5,156.7 L165.5,158.0 L166.5,160.7 L167.5,163.9 L168.5,166.1 L169.5,169.8 L170.5,173.0 L171.5,176.5 L172.5,179.0 L173.5,183.0 L174.5,186.0 L175.5,189.0 L176.5,192.4 L177.5,195.9 L178.5,200.0 L179.5,196.4 L180.5,193.1 L181.5,189.0 L182.5,184.8 L183.5,181.4 L184.5,177.4 L185.5,172.3 L186.5,169.7 L187.5,165.6 L188.5,162.1 L189.5,157.5 L190.5,154.9 L191.5,152.4 L192.5,149.6 L193.5,147.4 L194.5,145.1 L195.5,144.8 L196.5,143.6 L197.5,142.4 L198.5,143.3 L199.5,142.7 L200.5,143.8 L201.5,143.4 L202.5,144.3 L203.5,145.7 L204.5,147.2 L205.5,149.8 L206.5,151.3 L207.5,152.0 L208.5,154.6 L209.5,156.8 L210.5,157.0 L211.5,158.0 L212.5,159.1 L213.5,160.7 L214.5,161.0 L215.5,162.2 L216.5,162.8 L217.5,163.4 L218.5,164.7 L219.5,165.5 L220.5,166.2 L221.5,166.4 L222.5,167.3 L223.5,167.8 L224.5,168.4 L225.5,168.6 L226.5,170.5 L227.5,170.5 L228.5,171.3 L229.5,172.0 L230.5,171.8 L231.5,173.4 L232.5,174.2 L233.5,175.8 L234.5,176.1 L235.5,177.7 L236.5,177.5 L237.5,178.4 L238.5,179.6 L239.5,178.7 L240.5,179.7 L241.5,179.7 L242.5,179.9 L243.5,180.6 L244.5,182.0 L245.5,181.8 L246.5,182.4 L247.5,184.1 L248.5,183.9 L249.5,185.1 L250.5,186.3 L251.5,187.2 L252.5,188.4 L253.5,189.5 L254.5,191.1 L255.5,192.5 L256.5,194.5 L257.5,196.3 L258.5,197.4 L259.5,198.8 L260.5,199.7 L261.5,200.8 L262.5,201.7 L263.5,202.3 L264.5,202.2 L265.5,200.9 L266.5,201.6 L267.5,201.5 L268.5,199.9 L269.5,200.0 L270.5,198.1 L271.5,197.3 L272.5,196.9 L273.5,195.4 L274.5,194.1 L275.5,192.5 L276.5,192.1 L277.5,191.8 L278.5,191.4 L279.5,190.5 L280.5,190.0 L281.5,189.0 L282.5,188.6 L283.5,189.1 L284.5,188.6 L285.5,189.9 L286.5,189.9 L287.5,190.7 L288.5,190.3 L289.5,191.8 L290.5,191.5 L291.5,192.4 L292.5,192.1 L293.5,192.8 L294.5,193.1 L295.5,194.2 L296.5,195.4 L297.5,195.5 L298.5,196.2 L299.5,196.5 L300.5,196.2 L301.5,197.4 L302.5,197.5 L303.5,198.6 L304.5,199.0 L305.5,199.3 L306.5,199.2 L307.5,199.7 L308.5,199.3 L309.5,199.1 L310.5,199.8 L311.5,199.1 L312.5,199.2 L313.5,199.7 L314.5,198.7 L315.5,198.6 L316.5,198.7 L317.5,199.8 L318.5,199.5 L319.5,200.4 L320.5,199.8 L321.5,198.4 L322.5,199.2 L323.5,199.8 L324.5,200.5 L325.5,201.1 L326.5,201.4 L327.5,200.9 L328.5,201.8 L329.5,202.1 L330.5,203.5 L331.5,204.5 L332.5,205.5 L333.5,206.4 L334.5,206.6 L335.5,208.0 L336.5,209.5 L337.5,210.0 L338.5,210.8 L339.5,211.3 L340.5,211.2 L341.5,211.7 L342.5,212.0 L343.5,212.2 L344.5,212.9 L345.5,212.4 L346.5,212.9 L347.5,212.7 L348.5,212.7 L349.5,213.5 L350.5,213.2 L351.5,212.7 L352.5,211.7 L353.5,211.4 L354.5,210.6 L355.5,210.9 L356.5,210.5" stroke-width="3.0"/><path d="M67.5,177.4 L68.5,180.7 L69.5,185.0 L70.5,189.1 L71.5,192.6 L72.5,196.6 L73.5,201.4 L74.5,203.3 L75.5,204.4 L76.5,205.1 L77.5,205.6 L78.5,205.2 L79.5,204.1 L80.5,203.5 L81.5,202.1 L82.5,199.7 L83.5,198.7 L84.5,197.7 L85.5,196.6 L86.5,195.5 L87.5,195.8 L88.5,194.3 L89.5,194.7 L90.5,194.7 L91.5,194.7 L92.5,196.1 L93.5,198.4 L94.5,200.0 L95.5,201.9 L96.5,203.8 L97.5,206.6 L98.5,209.3 L99.5,211.1 L100.5,214.5 L101.5,218.2 L102.5,222.3 L103.5,225.3 L104.5,227.6 L105.5,230.7 L106.5,230.1 L107.5,230.0 L108.5,229.7 L109.5,227.3 L110.5,226.2 L111.5,224.2 L112.5,222.4 L113.5,221.8 L114.5,220.6 L115.5,218.0 L116.5,216.9 L117.5,215.1 L118.5,213.8 L119.5,213.1 L120.5,212.6 L121.5,212.0 L122.5,211.8 L123.5,213.0 L124.5,215.1 L125.5,216.5 L126.5,218.9 L127.5,220.8 L128.5,221.6 L129.5,224.3 L130.5,225.9 L131.5,226.6 L132.5,228.5 L133.5,231.6 L134.5,232.2 L135.5,234.8 L136.5,236.0 L137.5,236.4 L138.5,235.8 L139.5,235.1 L140.5,234.4 L141.5,233.0 L142.5,232.8 L143.5,231.5 L144.5,231.2 L145.5,230.6 L146.5,230.1 L147.5,229.8 L148.5,229.8 L149.5,229.1 L150.5,230.1 L151.5,229.3 L152.5,229.8 L153.5,230.2 L154.5,231.3 L155.5,230.5 L156.5,230.7 L157.5,232.0 L158.5,232.1 L159.5,233.5 L160.5,233.2 L161.5,234.6 L162.5,235.5 L163.5,236.1 L164.5,238.0 L165.5,239.0 L166.5,241.6 L167.5,243.7 L168.5,246.1 L169.5,249.5 L170.5,251.8 L171.5,254.3 L172.5,257.3 L173.5,259.2 L174.5,262.4 L175.5,266.1 L176.5,263.6 L177.5,263.2 L178.5,261.1 L179.5,258.6 L180.5,255.9 L181.5,252.7 L182.5,251.5 L183.5,248.7 L184.5,247.5 L185.5,245.3 L186.5,244.3 L187.5,242.5 L188.5,241.2 L189.5,240.4 L190.5,239.6 L191.5,237.5 L192.5,236.8 L193.5,237.2 L194.5,237.2 L195.5,235.9 L196.5,236.4 L197.5,235.6 L198.5,235.2 L199.5,235.2 L200.5,235.7 L201.5,236.0 L202.5,236.0 L203.5,235.4 L204.5,236.6 L205.5,236.5 L206.5,238.4 L207.5,238.7 L208.5,239.6 L209.5,240.4 L210.5,242.2 L211.5,241.9 L212.5,243.9 L213.5,244.2 L214.5,244.8 L215.5,245.6 L216.5,245.6 L217.5,247.1 L218.5,247.5 L219.5,247.3 L220.5,248.2 L221.5,249.4 L222.5,249.2 L223.5,249.5 L224.5,250.2 L225.5,250.7 L226.5,251.4 L227.5,251.8 L228.5,252.4 L229.5,253.2 L230.5,253.4 L231.5,253.9 L232.5,253.4 L233.5,254.5 L234.5,254.5 L235.5,254.8 L236.5,255.2 L237.5,255.4 L238.5,256.0 L239.5,257.2 L240.5,256.9 L241.5,258.3 L242.5,257.6 L243.5,258.4 L244.5,260.1 L245.5,260.7 L246.5,260.8 L247.5,261.3 L248.5,261.7 L249.5,262.7 L250.5,263.8 L251.5,264.4 L252.5,264.2 L253.5,264.8 L254.5,265.9 L255.5,265.7 L256.5,266.5 L257.5,266.3 L258.5,266.8 L259.5,267.6 L260.5,267.5 L261.5,267.0 L262.5,267.2 L263.5,267.5 L264.5,267.1" stroke-width="3.0"/><path d="M265.0,266.7 L266.0,266.3 L267.0,266.1 L268.0,266.2 L269.0,266.0 L270.0,265.6 L271.0,265.6 L272.0,265.1 L273.0,265.0 L274.0,265.2 L275.0,264.9 L276.0,264.3 L277.0,264.5 L278.0,264.2 L279.0,264.1 L280.0,263.7 L281.0,263.6 L282.0,263.0 L283.0,262.7 L284.0,262.8 L285.0,263.3 L286.0,263.5 L287.0,264.0 L288.0,264.2 L289.0,264.5 L290.0,264.7 L291.0,264.9 L292.0,265.4 L293.0,265.8 L294.0,266.6 L295.0,266.8 L296.0,267.2 L297.0,267.2 L298.0,267.3 L299.0,267.5 L300.0,267.8 L301.0,267.9 L302.0,268.1 L303.0,268.2 L304.0,268.3 L305.0,268.1 L306.0,268.4 L307.0,268.3 L308.0,268.3 L309.0,268.4 L310.0,269.0 L311.0,268.9 L312.0,269.0 L313.0,269.4 L314.0,269.4 L315.0,270.0 L316.0,270.3 L317.0,270.2 L318.0,270.7 L319.0,270.5 L320.0,271.0 L321.0,270.9 L322.0,271.6 L323.0,271.7 L324.0,271.8 L325.0,271.7 L326.0,272.6 L327.0,273.3 L328.0,273.4 L329.0,273.8 L330.0,274.7 L331.0,274.9 L332.0,275.2 L333.0,275.6 L334.0,275.9 L335.0,276.3 L336.0,276.5 L337.0,276.2 L338.0,276.8 L339.0,277.1 L340.0,277.0 L341.0,277.3 L342.0,277.4 L343.0,277.4 L344.0,277.1 L345.0,277.2 L346.0,277.5 L347.0,277.2 L348.0,277.4 L349.0,277.1 L350.0,276.8 L351.0,276.7 L352.0,276.9 L353.0,276.8 L354.0,276.8 L355.0,276.8 L356.0,276.8" stroke-width="2.6"/></g>
</g>
<g stroke="#000" stroke-width="1.8"><line x1="62" y1="264.6" x2="64.8" y2="264.6"/><line x1="356" y1="264.6" x2="352" y2="264.6"/><line x1="62" y1="236.0" x2="64.8" y2="236.0"/><line x1="356" y1="236.0" x2="349" y2="236.0"/><line x1="62" y1="207.3" x2="64.8" y2="207.3"/><line x1="356" y1="207.3" x2="352" y2="207.3"/><line x1="356" y1="178.7" x2="349" y2="178.7"/><line x1="356" y1="150.1" x2="352" y2="150.1"/><line x1="356" y1="121.5" x2="349" y2="121.5"/><line x1="356" y1="92.9" x2="352" y2="92.9"/><line x1="356" y1="64.2" x2="349" y2="64.2"/><line x1="356" y1="35.6" x2="352" y2="35.6"/><line x1="121.5" y1="293" x2="121.5" y2="289.6"/><line x1="121.5" y1="7" x2="121.5" y2="10.5"/><line x1="180.2" y1="293" x2="180.2" y2="286.6"/><line x1="180.2" y1="7" x2="180.2" y2="13.5"/><line x1="238.8" y1="293" x2="238.8" y2="289.6"/><line x1="238.8" y1="7" x2="238.8" y2="10.5"/><line x1="297.5" y1="293" x2="297.5" y2="286.6"/><line x1="297.5" y1="7" x2="297.5" y2="13.5"/></g>
<g font-size="15" fill="#000"><text x="57" y="296.9" text-anchor="end">0</text><text x="57" y="239.7" text-anchor="end">2</text><text x="57" y="182.4" text-anchor="end">4</text><text x="57" y="125.2" text-anchor="end">6</text><text x="57" y="67.9" text-anchor="end">8</text><text x="57" y="10.7" text-anchor="end">10</text><text x="62.8" y="311.3" text-anchor="middle">4000</text><text x="180.2" y="311.3" text-anchor="middle">6000</text><text x="297.5" y="311.3" text-anchor="middle">8000</text>
<text x="208.8" y="337.9" text-anchor="middle">Wavelength [A]</text>
<text x="187.8" y="98.5">−9.5 d (+ constant flux)</text>
<text x="207.9" y="227.4">−11.5 d</text>
<text transform="translate(14.8,200.3) rotate(-90)" font-size="15">L<tspan font-size="8.5" dx="-1.8" dy="6">λ</tspan><tspan dy="-6" dx="-0.4"> [</tspan><tspan dx="2.0">10</tspan><tspan font-size="9" dy="-7.5" dx="-2.1">38</tspan><tspan dy="7.5" dx="-1.8"> erg s</tspan><tspan font-size="9" dy="-7.5" dx="1.5">−1</tspan><tspan dy="7.5" dx="0"> A</tspan><tspan font-size="9" dy="-7.5" dx="-0.8">−1</tspan><tspan dy="7.5">]</tspan></text>
</g>
</svg>
</body></html>
